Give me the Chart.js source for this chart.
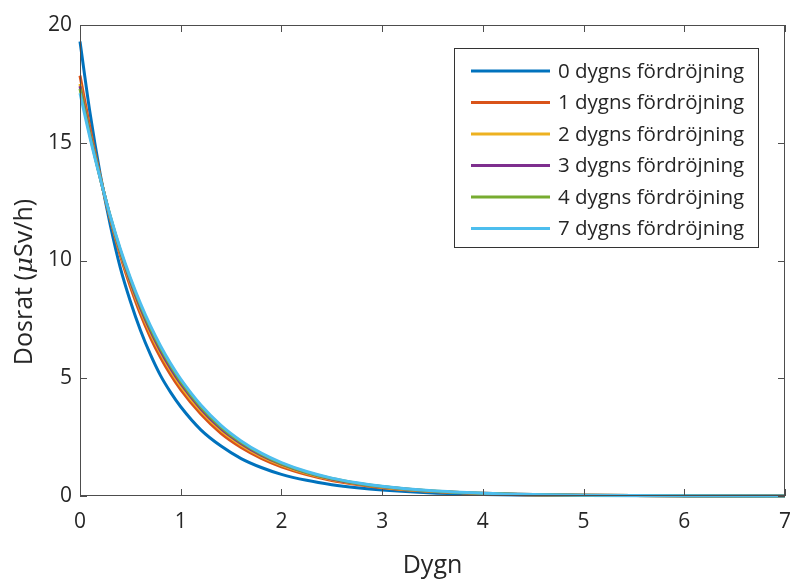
<!DOCTYPE html>
<html>
<head>
<meta charset="utf-8">
<script src="https://cdn.jsdelivr.net/npm/chart.js@4.4.1/dist/chart.umd.min.js"></script>
<style>
  html, body { margin: 0; padding: 0; background: #ffffff; }
  #wrap { width: 792px; height: 581px; position: relative; }
</style>
</head>
<body>
<div id="wrap"><canvas id="c" width="792" height="581"></canvas></div>
<script>
// ---- data ----
const days = [0, 0.1, 0.2, 0.3, 0.4, 0.5, 0.6, 0.7, 0.8, 0.9, 1.0, 1.2, 1.4, 1.6, 1.8, 2.0, 2.25, 2.5, 2.75, 3.0, 3.5, 4.0, 4.5, 5, 6, 7];

const delay0 = [19.3, 16.25, 13.68, 11.52, 9.7, 8.27, 7.04, 6.0, 5.11, 4.4, 3.79, 2.81, 2.12, 1.59, 1.21, 0.92, 0.665, 0.48, 0.347, 0.25, 0.13, 0.068, 0.035, 0.018, 0.005, 0.0013];
const delay1 = [17.85, 15.6, 13.57, 11.78, 10.22, 8.9, 7.73, 6.73, 5.88, 5.15, 4.52, 3.48, 2.66, 2.06, 1.6, 1.24, 0.91, 0.66, 0.49, 0.35, 0.19, 0.10, 0.053, 0.028, 0.008, 0.002];
const delay2 = [17.5, 15.4, 13.54, 11.82, 10.33, 9.04, 7.9, 6.92, 6.07, 5.33, 4.68, 3.62, 2.79, 2.17, 1.68, 1.31, 0.96, 0.7, 0.515, 0.375, 0.2, 0.108, 0.058, 0.031, 0.009, 0.0025];
const delay3 = [17.4, 15.36, 13.53, 11.85, 10.39, 9.12, 8.0, 7.02, 6.17, 5.43, 4.78, 3.71, 2.86, 2.23, 1.73, 1.35, 0.99, 0.72, 0.53, 0.39, 0.207, 0.112, 0.06, 0.032, 0.009, 0.0027];
const delay4 = [17.3, 15.3, 13.52, 11.88, 10.44, 9.2, 8.09, 7.12, 6.27, 5.53, 4.87, 3.78, 2.93, 2.28, 1.78, 1.38, 1.01, 0.74, 0.545, 0.4, 0.214, 0.116, 0.063, 0.034, 0.01, 0.0028];
const delay7 = [17.1, 15.2, 13.5, 11.9, 10.5, 9.27, 8.18, 7.22, 6.37, 5.62, 4.96, 3.86, 3.0, 2.34, 1.82, 1.42, 1.04, 0.76, 0.56, 0.41, 0.22, 0.12, 0.065, 0.035, 0.01, 0.003];

const seriesLabels = ["0 dygns fördröjning", "1 dygns fördröjning", "2 dygns fördröjning", "3 dygns fördröjning", "4 dygns fördröjning", "7 dygns fördröjning"];
const xTicks = [0, 1, 2, 3, 4, 5, 6, 7];
const yTicks = [0, 5, 10, 15, 20];
const xTitle = "Dygn";
const yTitleParts = ["Dosrat (", "μ", "Sv/h)"];

// ---- styling ----
const colors = ["#0072BD", "#D95319", "#EDB120", "#7E2F8E", "#77AC30", "#4DBEEE"];
const allSeries = [delay0, delay1, delay2, delay3, delay4, delay7];
const FONT = "'Open Sans', 'Noto Sans', sans-serif";
const TXT = "#262626";
const AXC = "#4d4d4d";

const datasets = allSeries.map((vals, i) => ({
  label: seriesLabels[i],
  data: days.map((d, j) => ({ x: d, y: vals[j] })),
  borderColor: colors[i],
  backgroundColor: colors[i],
  borderWidth: 3,
  pointRadius: 0,
  fill: false,
  cubicInterpolationMode: 'monotone',
  clip: 4,
  order: allSeries.length - i
}));

const matlabAxes = {
  id: 'matlabAxes',
  afterDatasetsDraw(chart) {
    const { ctx, chartArea: a, scales } = chart;
    const xs = scales.x, ys = scales.y;
    ctx.save();
    ctx.strokeStyle = AXC;
    ctx.lineWidth = 1;
    ctx.strokeRect(Math.round(a.left) + 0.5, Math.round(a.top) + 0.5, Math.round(a.right - a.left) - 1, Math.round(a.bottom - a.top) - 1);
    const tl = 7;
    ctx.beginPath();
    xTicks.forEach(v => {
      const px = Math.round(xs.getPixelForValue(v)) + 0.5;
      ctx.moveTo(px, a.bottom); ctx.lineTo(px, a.bottom - tl);
      ctx.moveTo(px, a.top); ctx.lineTo(px, a.top + tl);
    });
    yTicks.forEach(v => {
      const py = Math.round(ys.getPixelForValue(v)) + 0.5;
      ctx.moveTo(a.left, py); ctx.lineTo(a.left + tl, py);
      ctx.moveTo(a.right, py); ctx.lineTo(a.right - tl, py);
    });
    ctx.stroke();

    // legend
    const lx = 454, ly = 48, lw = 305, lh = 200;
    ctx.fillStyle = '#ffffff';
    ctx.fillRect(lx, ly, lw, lh);
    ctx.strokeStyle = '#333333';
    ctx.strokeRect(lx + 0.5, ly + 0.5, lw - 1, lh - 1);
    ctx.font = "20.5px " + FONT;
    ctx.textBaseline = 'middle';
    ctx.textAlign = 'left';
    chart.data.datasets.forEach((ds, i) => {
      const cy = 71 + i * 31.5;
      ctx.strokeStyle = ds.borderColor;
      ctx.lineWidth = 3;
      ctx.beginPath();
      ctx.moveTo(471, cy); ctx.lineTo(550, cy);
      ctx.stroke();
      ctx.fillStyle = TXT;
      ctx.fillText(ds.label, 558, cy + 1);
    });

    // y title with italic mu
    ctx.translate(25, 282);
    ctx.rotate(-Math.PI / 2);
    const fN = "25px " + FONT, fI = "italic 25px 'DejaVu Serif', serif";
    ctx.font = fN; const w0 = ctx.measureText(yTitleParts[0]).width;
    ctx.font = fI; const w1 = ctx.measureText(yTitleParts[1]).width;
    ctx.font = fN; const w2 = ctx.measureText(yTitleParts[2]).width;
    let x0 = -(w0 + w1 + w2) / 2;
    ctx.fillStyle = TXT;
    ctx.textBaseline = 'middle';
    ctx.font = fN; ctx.fillText(yTitleParts[0], x0, 0);
    ctx.font = fI; ctx.fillText(yTitleParts[1], x0 + w0, 0);
    ctx.font = fN; ctx.fillText(yTitleParts[2], x0 + w0 + w1, 0);
    ctx.restore();
  }
};

new Chart(document.getElementById('c'), {
  type: 'line',
  data: { datasets },
  plugins: [matlabAxes],
  options: {
    responsive: false,
    animation: false,
    devicePixelRatio: 1,
    layout: { padding: { left: 0, top: 25, right: 7, bottom: 0 } },
    plugins: { legend: { display: false }, tooltip: { enabled: false } },
    scales: {
      x: {
        type: 'linear', min: 0, max: 7,
        afterFit(s) { s.height = 85; s.paddingRight = 0; s.paddingLeft = 0; },
        afterBuildTicks(s) { s.ticks = xTicks.map(v => ({ value: v })); },
        grid: { display: false, drawTicks: false },
        border: { display: false },
        ticks: { color: TXT, font: { family: FONT, size: 21 }, padding: 13, maxRotation: 0 },
        title: { display: true, text: xTitle, color: TXT, font: { family: FONT, size: 25 }, padding: { top: 0, bottom: 0 } }
      },
      y: {
        type: 'linear', min: 0, max: 20,
        afterFit(s) { s.width = 80; s.paddingTop = 0; s.paddingBottom = 0; },
        afterBuildTicks(s) { s.ticks = yTicks.map(v => ({ value: v })); },
        grid: { display: false, drawTicks: false },
        border: { display: false },
        ticks: { color: TXT, font: { family: FONT, size: 21 }, padding: 8 }
      }
    }
  }
});
</script>
</body>
</html>
